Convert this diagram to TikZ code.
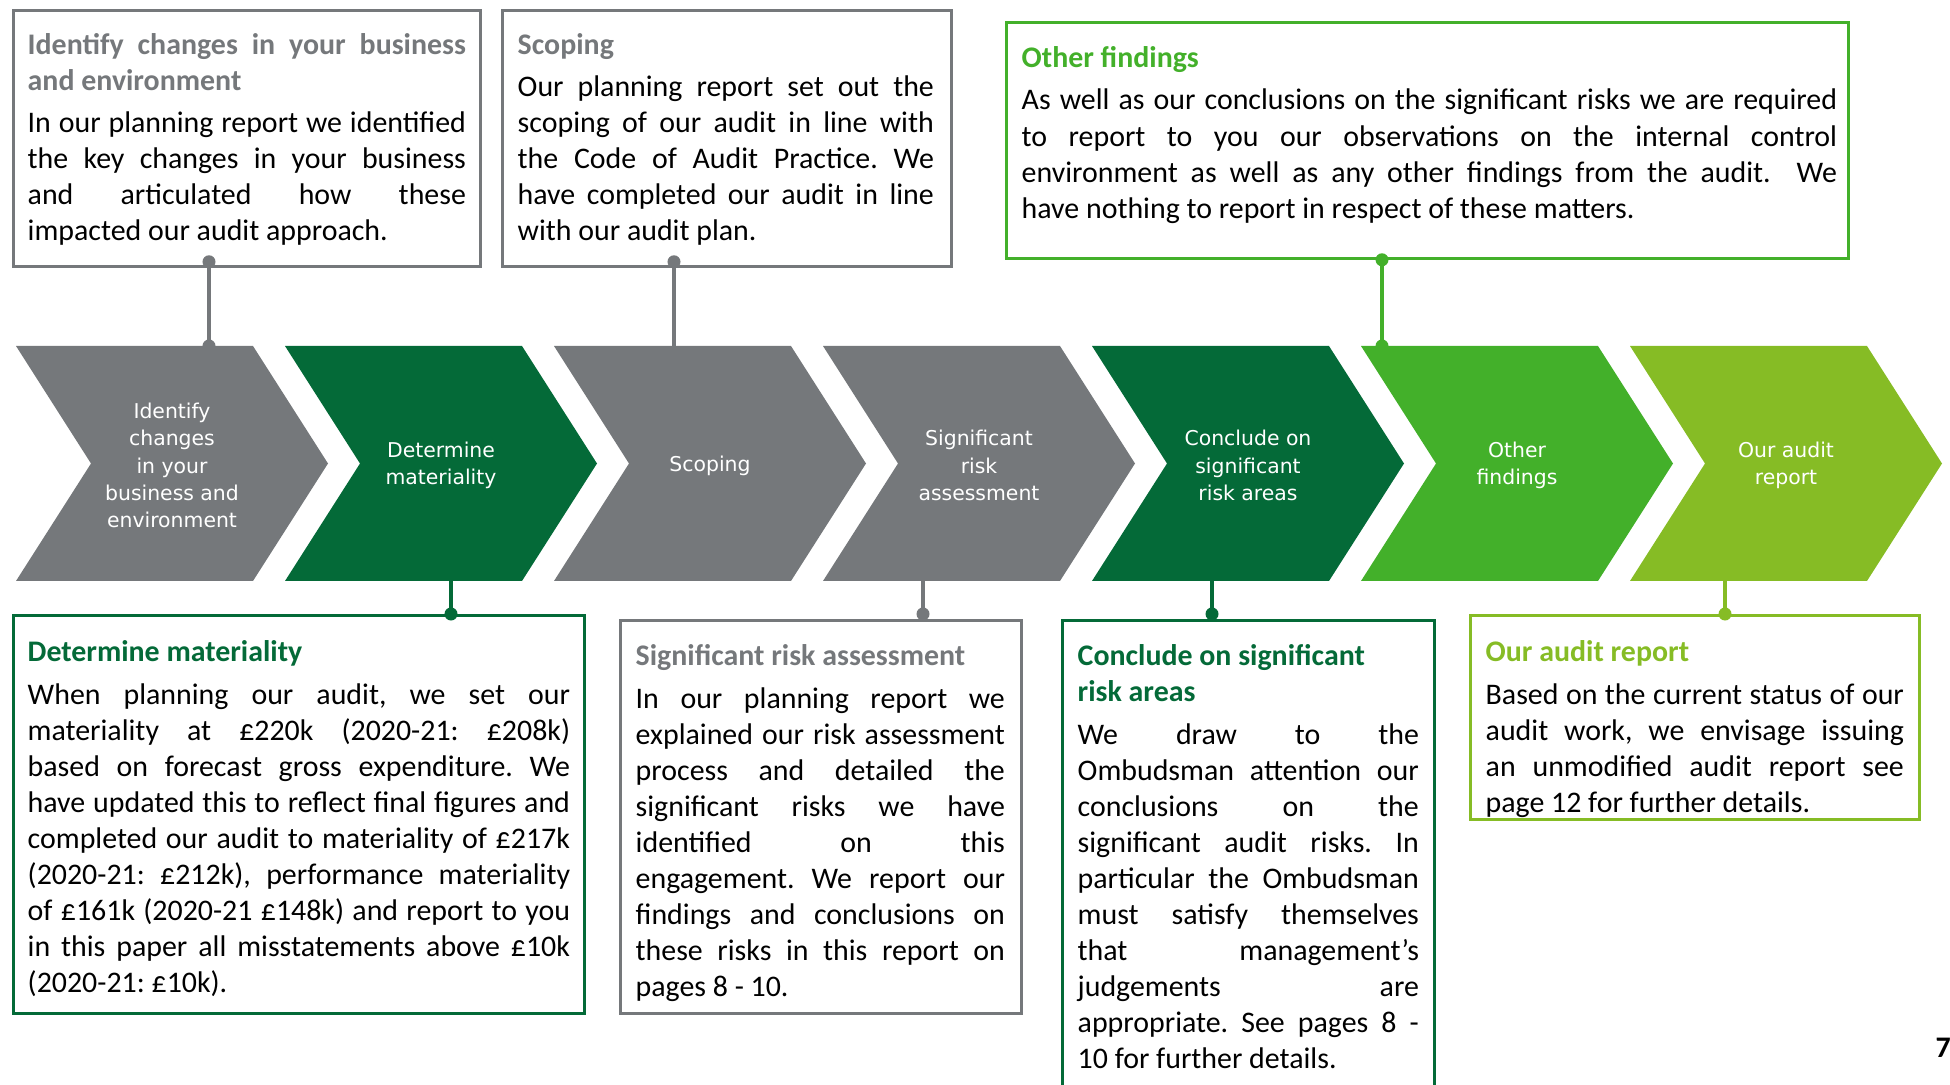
\documentclass[tikz,border=0pt]{standalone}
\usepackage{fontspec}
\setmainfont{Carlito}
\newfontfamily\chevfont{DejaVu Sans}
\usetikzlibrary{positioning}
\definecolor{mygray}{RGB}{117,120,123}
\definecolor{mydarkgreen}{RGB}{4,106,56}
\definecolor{mygreen}{RGB}{67,176,42}
\definecolor{mylightgreen}{RGB}{134,188,37}
\newcommand{\notefont}{\fontsize{8.5pt}{10.25pt}\selectfont}
\newcommand{\head}[2]{\strut\textcolor{#1}{\bfseries #2}}
\setlength{\parindent}{0pt}
\frenchspacing
\tolerance=10000
\hbadness=10000
\tikzset{
    card/.style={draw=#1, line width=0.75pt, anchor=north west, inner sep=0pt},
    note/.style={anchor=north west, inner sep=0pt, text width=#1, align=justify, font=\notefont},
    chevlabel/.style={text=white, align=center, font=\chevfont\fontsize{5.8pt}{7.8pt}\selectfont},
    link/.style={draw=#1, line width=0.9pt},
    dot/.style={circle, fill=#1, inner sep=0pt, minimum size=1.3mm}
}
\newcommand{\chev}[4]{%
    \fill[#2] (#1,346) -- ++(237,0) -- ++(75,117.5) -- ++(-75,117.5)
        -- ++(-237,0) -- ++(75,-117.5) -- cycle;
    \node[chevlabel] (#3) at (#1+156,465.5) {#4};
}

\begin{document}
\begin{tikzpicture}[x=0.01cm, y=-0.01cm]
    \useasboundingbox (0,0) rectangle (1950,1085);

    % process steps
    \chev{16}{mygray}{s1}{Identify\\changes\\in your\\business and\\environment}
    \chev{285}{mydarkgreen}{s2}{Determine\\materiality}
    \chev{554}{mygray}{s3}{Scoping}
    \chev{823}{mygray}{s4}{Significant\\risk\\assessment}
    \chev{1092}{mydarkgreen}{s5}{Conclude on\\significant\\risk areas}
    \chev{1361}{mygreen}{s6}{Other\\findings}
    \chev{1630}{mylightgreen}{s7}{Our audit\\report}

    % top boxes
    \node[card=mygray, minimum width=46.7mm, minimum height=25.6mm] (idbox) at (12,9) {};
    \node[note=43.8mm, below right=1.95mm and 1.5mm of idbox.north west] (idtxt)
        {\head{mygray}{Identify changes in your business\linebreak and environment}\\[0.6mm]
        In our planning report we identified\linebreak the key changes in your business\linebreak
        and articulated how these\linebreak impacted our audit approach.};

    \node[card=mygray, minimum width=44.9mm, minimum height=25.6mm] (scbox) at (501,9) {};
    \node[note=41.6mm, below right=1.95mm and 1.6mm of scbox.north west] (sctxt)
        {\head{mygray}{Scoping}\\[0.6mm]
        Our planning report set out the\linebreak scoping of our audit in line with\linebreak
        the Code of Audit Practice. We\linebreak have completed our audit in line\linebreak
        with our audit plan.};

    \node[card=mygreen, minimum width=84.2mm, minimum height=23.6mm] (ofbox) at (1005,21) {};
    \node[note=81.5mm, below right=2.05mm and 1.6mm of ofbox.north west] (oftxt)
        {\head{mygreen}{Other findings}\\[0.65mm]
        As well as our conclusions on the significant risks we are required\linebreak
        to report to you our observations on the internal control\linebreak
        environment as well as any other findings from the audit.\ \ We\linebreak
        have nothing to report in respect of these matters.};

    % bottom boxes
    \node[card=mydarkgreen, minimum width=57.1mm, minimum height=39.8mm] (dmbox) at (12,614) {};
    \node[note=54.2mm, below right=2.2mm and 1.5mm of dmbox.north west] (dmtxt)
        {\head{mydarkgreen}{Determine materiality}\\[0.65mm]
        When planning our audit, we set our\linebreak materiality at £220k (2020-21: £208k)\linebreak
        based on forecast gross expenditure. We\linebreak have updated this to reflect final figures and\linebreak
        completed our audit to materiality of £217k\linebreak (2020-21: £212k), performance materiality\linebreak
        of £161k (2020-21 £148k) and report to you\linebreak in this paper all misstatements above £10k\linebreak
        (2020-21: £10k).};

    \node[card=mygray, minimum width=40.1mm, minimum height=39.3mm] (srbox) at (619,619) {};
    \node[note=36.9mm, below right=2.1mm and 1.6mm of srbox.north west] (srtxt)
        {\head{mygray}{Significant risk assessment}\\[0.65mm]
        In our planning report we\linebreak explained our risk assessment\linebreak
        process and detailed the\linebreak significant risks we have\linebreak
        identified on this\linebreak engagement. We report our\linebreak
        findings and conclusions on\linebreak these risks in this report on\linebreak
        pages 8 - 10.};

    \node[card=mydarkgreen, minimum width=37.2mm, minimum height=50mm] (csbox) at (1061,619) {};
    \node[note=34.1mm, below right=2.1mm and 1.6mm of csbox.north west] (cstxt)
        {\head{mydarkgreen}{Conclude on significant\\risk areas}\\[0.65mm]
        We draw to the\linebreak Ombudsman attention our\linebreak
        conclusions on the\linebreak significant audit risks. In\linebreak
        particular the Ombudsman\linebreak must satisfy themselves\linebreak
        that management’s\linebreak judgements are\linebreak
        appropriate. See pages 8 -\linebreak 10 for further details.};

    \node[card=mylightgreen, minimum width=44.9mm, minimum height=20.4mm] (arbox) at (1469,614) {};
    \node[note=41.8mm, below right=2.2mm and 1.6mm of arbox.north west] (artxt)
        {\head{mylightgreen}{Our audit report}\\[0.65mm]
        Based on the current status of our\linebreak audit work, we envisage issuing\linebreak
        an unmodified audit report see\linebreak page 12 for further details.};

    % connectors
    \coordinate (idtop) at (209,346);
    \coordinate (sctop) at (674,346);
    \coordinate (oftop) at (1382,346);
    \coordinate (dmbot) at (451,581);
    \coordinate (srbot) at (923,581);
    \coordinate (csbot) at (1212,581);
    \coordinate (arbot) at (1725,581);

    \draw[link=mygray] (idtop |- idbox.south) -- (idtop);
    \node[dot=mygray, yshift=0.6mm] (iddot) at (idtop |- idbox.south) {};
    \node[dot=mygray] (s1dot) at (idtop) {};
    \draw[link=mygray] (sctop |- scbox.south) -- (sctop);
    \node[dot=mygray, yshift=0.6mm] (scdot) at (sctop |- scbox.south) {};
    \draw[link=mygreen] (oftop |- ofbox.south) -- (oftop);
    \node[dot=mygreen] (ofdot) at (oftop |- ofbox.south) {};
    \node[dot=mygreen] (s6dot) at (oftop) {};

    \draw[link=mydarkgreen] (dmbot) -- (dmbot |- dmbox.north);
    \node[dot=mydarkgreen] (dmdot) at (dmbot |- dmbox.north) {};
    \draw[link=mygray] (srbot) -- (srbot |- srbox.north);
    \node[dot=mygray, yshift=0.5mm] (srdot) at (srbot |- srbox.north) {};
    \draw[link=mydarkgreen] (csbot) -- (csbot |- csbox.north);
    \node[dot=mydarkgreen, yshift=0.5mm] (csdot) at (csbot |- csbox.north) {};
    \draw[link=mylightgreen] (arbot) -- (arbot |- arbox.north);
    \node[dot=mylightgreen] (ardot) at (arbot |- arbox.north) {};

    \node[font=\notefont\bfseries, anchor=west, inner sep=0pt] (pageno) at (1935,1048) {7};
\end{tikzpicture}
\end{document}
